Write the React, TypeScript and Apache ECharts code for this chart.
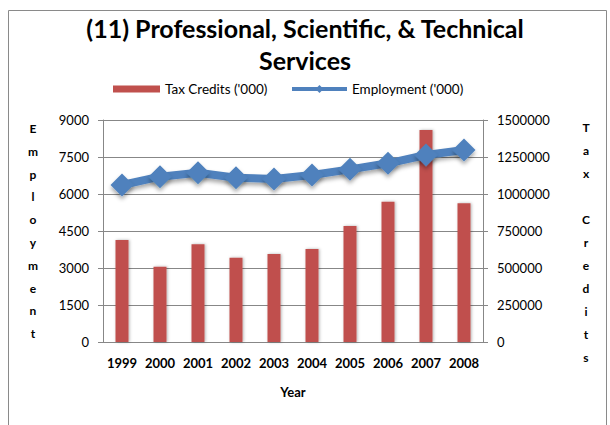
import React, { useEffect, useRef } from "react";
import * as echarts from "echarts";

const years = ["1999", "2000", "2001", "2002", "2003", "2004", "2005", "2006", "2007", "2008"];
const taxCredits = [689000, 509000, 660000, 570000, 595000, 628000, 784000, 948000, 1432000, 937000];
const employment = [6365, 6703, 6865, 6662, 6608, 6770, 7000, 7245, 7581, 7784];

const barName = "Tax Credits ('000)";
const lineName = "Employment ('000)";
const titleText = "(11) Professional, Scientific, & Technical\nServices";
const leftAxisTitle = "Employment";
const rightAxisTitle = "Tax Credits";
const xAxisTitle = "Year";

const FONT = "Lato, 'Open Sans', sans-serif";
const GRID = "#878787";

export default function App() {
  const ref = useRef<HTMLDivElement>(null);
  useEffect(() => {
    if (!ref.current) return;
    const chart = echarts.init(ref.current, null, { renderer: "svg" });
    const textStyle = { fontFamily: FONT, fontSize: 13.5, color: "#000" };
    const plain = (v: number) => String(v);
    chart.setOption({
      animation: false,
      backgroundColor: "#fff",
      textStyle: { fontFamily: FONT },
      title: {
        text: titleText,
        left: "center",
        top: 7,
        textStyle: { fontFamily: FONT, fontSize: 25, fontWeight: "bold", color: "#000", lineHeight: 32 },
      },
      legend: [
        {
          data: [{ name: barName, icon: "rect" }],
          left: 113,
          top: 82,
          padding: 0,
          itemWidth: 47,
          itemHeight: 7,
          textStyle,
        },
        {
          data: [{ name: lineName }],
          left: 290,
          top: 82,
          padding: 0,
          itemWidth: 55,
          itemHeight: 10,
          lineStyle: { width: 4 },
          textStyle,
        },
      ],
      grid: { left: 103, right: 127, top: 120, bottom: 83 },
      xAxis: {
        type: "category",
        data: years,
        name: xAxisTitle,
        nameLocation: "middle",
        nameGap: 43,
        nameTextStyle: { fontFamily: FONT, fontSize: 13, fontWeight: "bold", color: "#000" },
        axisLine: { lineStyle: { color: GRID } },
        axisTick: { length: 5, lineStyle: { color: GRID } },
        axisLabel: { interval: 0, fontFamily: FONT, fontSize: 13, fontWeight: "bold", color: "#000", margin: 14 },
      },
      yAxis: [
        {
          type: "value",
          min: 0,
          max: 9000,
          interval: 1500,
          position: "left",
          name: leftAxisTitle.split("").join("\n"),
          nameLocation: "middle",
          nameRotate: 0,
          nameGap: 70,
          nameTextStyle: { fontFamily: FONT, fontSize: 12, fontWeight: "bold", color: "#000", lineHeight: 22.8, align: "center" },
          axisLine: { show: true, lineStyle: { color: GRID } },
          axisTick: { show: true, length: 5, lineStyle: { color: GRID } },
          axisLabel: { fontFamily: FONT, fontSize: 13, color: "#000", margin: 14, formatter: plain },
          splitLine: { lineStyle: { color: GRID, width: 1 } },
        },
        {
          type: "value",
          min: 0,
          max: 1500000,
          interval: 250000,
          position: "right",
          name: "\n" + rightAxisTitle.split("").join("\n"),
          nameLocation: "middle",
          nameRotate: 0,
          nameGap: 103,
          nameTextStyle: { fontFamily: FONT, fontSize: 12, fontWeight: "bold", color: "#000", lineHeight: 23, align: "center" },
          axisLine: { show: true, lineStyle: { color: GRID } },
          axisTick: { show: true, length: 5, lineStyle: { color: GRID } },
          axisLabel: { fontFamily: FONT, fontSize: 13, color: "#000", margin: 14, formatter: plain },
          splitLine: { show: false },
        },
      ],
      series: [
        {
          name: barName,
          type: "bar",
          yAxisIndex: 1,
          data: taxCredits,
          barWidth: 13,
          itemStyle: { color: "#C0504D", shadowColor: "rgba(0,0,0,0.3)", shadowBlur: 3, shadowOffsetX: 1 },
          z: 2,
        },
        {
          name: lineName,
          type: "line",
          yAxisIndex: 0,
          data: employment,
          symbol: "diamond",
          symbolSize: 23,
          lineStyle: { color: "#4F81BD", width: 8, shadowColor: "rgba(0,0,0,0.35)", shadowBlur: 4, shadowOffsetY: 3 },
          itemStyle: { color: "#4F81BD", shadowColor: "rgba(0,0,0,0.35)", shadowBlur: 4, shadowOffsetY: 3 },
          z: 3,
        },
      ],
      graphic: [
        {
          type: "rect",
          left: 6,
          top: 8,
          shape: { width: 598, height: 440 },
          style: { fill: "none", stroke: "#8a8a8a", lineWidth: 1 },
          silent: true,
        },
      ],
    });
    return () => chart.dispose();
  }, []);
  return <div ref={ref} style={{ position: "fixed", left: 0, top: 0, width: 610, height: 425 }} />;
}
